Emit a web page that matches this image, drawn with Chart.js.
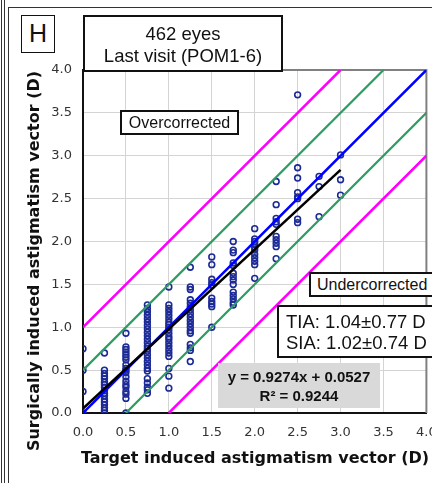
<!DOCTYPE html>
<html>
<head>
<meta charset="utf-8">
<script src="https://cdn.jsdelivr.net/npm/chart.js@4.4.1/dist/chart.umd.min.js"></script>
<style>
  html, body { margin: 0; padding: 0; background: #fff; overflow: hidden; }
  #wrap { position: relative; width: 432px; height: 483px; overflow: hidden; }
  #chart { position: absolute; left: 0; top: 0; }
  .frame { position: absolute; background: #333; }
  .box { position: absolute; box-sizing: border-box; border: 2px solid #111; background: #fff;
         font-family: "Liberation Sans", Arial, sans-serif; color: #111; text-align: center; }
  .axis-title { position: absolute; font-family: "DejaVu Sans", Verdana, sans-serif; font-weight: bold;
                font-size: 16px; color: #111; white-space: nowrap; }
</style>
</head>
<body>
<div id="wrap">
  <canvas id="chart" width="432" height="483"></canvas>

  <!-- panel frame lines -->
  <div class="frame" style="left:1px;top:0;width:1px;height:483px;"></div>
  <div class="frame" style="left:4px;top:0;width:1px;height:483px;"></div>
  <div class="frame" style="left:8px;top:7px;width:1px;height:476px;"></div>
  <div class="frame" style="left:8px;top:7px;width:424px;height:1px;"></div>

  <div class="box" style="left:21px;top:15px;width:34px;height:38px;border-width:1.5px;font-size:25px;line-height:35px;">H</div>
  <div class="box" style="left:83px;top:15px;width:200px;height:57px;font-size:18.5px;line-height:22px;padding-top:6px;">462 eyes<br>Last visit (POM1-6)</div>
  <div class="box" style="left:120px;top:110px;width:119px;height:25px;font-size:16px;line-height:21px;">Overcorrected</div>
  <div class="box" style="left:309px;top:272px;width:130px;height:25px;font-size:16px;line-height:21px;text-align:left;padding-left:6px;">Undercorrected</div>
  <div class="box" style="left:277px;top:305px;width:165px;height:53px;font-size:18.5px;line-height:21px;text-align:left;padding-left:7px;padding-top:4px;">TIA: 1.04±0.77 D<br>SIA: 1.02±0.74 D</div>
  <div class="box" style="left:218px;top:363px;width:162px;height:45px;border:none;background:#d9d9d9;font-weight:bold;font-size:15px;line-height:19px;padding-top:4px;">y = 0.9274x + 0.0527<br>R² = 0.9244</div>

  <div class="axis-title" style="left:255px;top:457px;transform:translate(-50%,-50%);">Target induced astigmatism vector (D)</div>
  <div class="axis-title" style="left:33px;top:261px;transform:translate(-50%,-50%) rotate(-90deg);">Surgically induced astigmatism vector (D)</div>
</div>

<script>
// axis ticks (diopters)
const axisTicks = [0, 0.5, 1.0, 1.5, 2.0, 2.5, 3.0, 3.5, 4.0];

// target induced astigmatism levels and the surgically induced values read at each
const tiaLevels = [0, 0.25, 0.5, 0.75, 1.0, 1.25, 1.5, 1.75, 2.0, 2.25, 2.5, 2.75, 3.0];
const sia000 = [0, 0.25, 0.5, 0.75];
const sia025 = [0, 0.03, 0.06, 0.1, 0.13, 0.16, 0.2, 0.23, 0.26, 0.3, 0.33, 0.36, 0.4, 0.43, 0.46, 0.5, 0.7];
const sia050 = [0, 0.17, 0.22, 0.25, 0.3, 0.33, 0.37, 0.42, 0.47, 0.5, 0.52, 0.56, 0.62, 0.65, 0.68, 0.71, 0.74, 0.77, 0.93];
const sia075 = [0.23, 0.27, 0.3, 0.35, 0.4, 0.49, 0.52, 0.56, 0.6, 0.64, 0.68, 0.72, 0.75, 0.78, 0.82, 0.86, 0.9, 0.94, 0.98, 1.02, 1.06, 1.1, 1.14, 1.18, 1.22, 1.26];
const sia100 = [0.29, 0.43, 0.52, 0.66, 0.7, 0.74, 0.78, 0.82, 0.86, 0.89, 0.93, 0.97, 1.0, 1.03, 1.06, 1.1, 1.14, 1.18, 1.22, 1.26, 1.47];
const sia125 = [0.6, 0.73, 0.76, 0.8, 0.93, 0.96, 1.0, 1.04, 1.08, 1.12, 1.16, 1.2, 1.24, 1.28, 1.32, 1.44, 1.47, 1.7];
const sia150 = [1.0, 1.24, 1.27, 1.3, 1.34, 1.49, 1.52, 1.56, 1.73, 1.82];
const sia175 = [1.26, 1.29, 1.33, 1.37, 1.41, 1.5, 1.55, 1.59, 1.63, 1.72, 1.75, 1.87, 1.9, 2.0];
const sia200 = [1.57, 1.73, 1.77, 1.81, 1.85, 1.9, 1.93, 1.97, 2.0, 2.03, 2.15];
const sia225 = [1.8, 1.94, 1.98, 2.02, 2.06, 2.2, 2.23, 2.27, 2.43, 2.7];
const sia250 = [2.22, 2.26, 2.5, 2.52, 2.57, 2.74, 2.86, 3.71];
const sia275 = [2.29, 2.64, 2.76];
const sia300 = [2.54, 2.72, 3.01];
const siaColumns = [sia000, sia025, sia050, sia075, sia100, sia125, sia150, sia175, sia200, sia225, sia250, sia275, sia300];

// reference lines SIA = TIA + offset
const offsetsGreen = [-0.5, 0.5];
const offsetsMagenta = [-1, 1];

// linear fit
const fitSlope = 0.9274;
const fitIntercept = 0.0527;
const fitRange = [0, 3.0];

const AXIS_MAX = 4;

function diagonal(offset) {
    const x0 = Math.max(0, -offset);
    const x1 = Math.min(AXIS_MAX, AXIS_MAX - offset);
    return [{ x: x0, y: x0 + offset }, { x: x1, y: x1 + offset }];
}

const scatterPoints = [];
tiaLevels.forEach((tia, i) => {
    siaColumns[i].forEach(sia => scatterPoints.push({ x: tia, y: sia }));
});

const lineStyle = (color, width) => ({
    type: 'line', borderColor: color, borderWidth: width, pointRadius: 0,
    fill: false, tension: 0, showLine: true
});

const datasets = [
    Object.assign(lineStyle('#000000', 2.5), {
        label: 'fit',
        data: fitRange.map(x => ({ x: x, y: fitSlope * x + fitIntercept }))
    }),
    Object.assign(lineStyle('#0000ff', 2.5), { label: 'y=x', data: diagonal(0) }),
    ...offsetsGreen.map(o => Object.assign(lineStyle('#2e9b62', 2.2), { label: 'g' + o, data: diagonal(o) })),
    ...offsetsMagenta.map(o => Object.assign(lineStyle('#ff00ff', 2.5), { label: 'm' + o, data: diagonal(o) })),
    {
        type: 'scatter', label: 'eyes', data: scatterPoints,
        pointStyle: 'circle', pointRadius: 2.9, pointBorderWidth: 1.6,
        pointBorderColor: '#1c2a96', pointBackgroundColor: 'rgba(255,255,255,0)'
    }
];

// grey frame on top/right of the plot
const plotFrame = {
    id: 'plotFrame',
    beforeDatasetsDraw(chart) {
        const a = chart.chartArea, ctx = chart.ctx;
        ctx.save();
        ctx.strokeStyle = '#808080';
        ctx.lineWidth = 2;
        ctx.beginPath();
        ctx.moveTo(a.left, a.top);
        ctx.lineTo(a.right, a.top);
        ctx.lineTo(a.right, a.bottom);
        ctx.stroke();
        ctx.restore();
    }
};

const tickFont = { family: '"DejaVu Sans", Verdana, sans-serif', size: 13 };

new Chart(document.getElementById('chart'), {
    type: 'scatter',
    data: { datasets: datasets },
    options: {
        responsive: false,
        animation: false,
        devicePixelRatio: 1,
        layout: { padding: { top: 70, right: 5, left: 0, bottom: 0 } },
        plugins: { legend: { display: false }, tooltip: { enabled: false } },
        scales: {
            x: {
                type: 'linear', min: 0, max: AXIS_MAX,
                afterBuildTicks: s => { s.ticks = axisTicks.map(v => ({ value: v })); },
                afterFit: s => { s.height = 70; s.paddingLeft = 0; s.paddingRight = 0; },
                grid: { color: '#d4d4d4', lineWidth: 1, drawTicks: false },
                border: { color: '#111', width: 2 },
                ticks: { color: '#333', font: tickFont, padding: 12, maxRotation: 0,
                         callback: v => v.toFixed(1) }
            },
            y: {
                type: 'linear', min: 0, max: AXIS_MAX,
                afterBuildTicks: s => { s.ticks = axisTicks.map(v => ({ value: v })); },
                afterFit: s => { s.width = 83; s.paddingTop = 0; s.paddingBottom = 0; },
                grid: { color: '#d4d4d4', lineWidth: 1, drawTicks: false },
                border: { color: '#111', width: 2 },
                ticks: { color: '#333', font: tickFont, padding: 11,
                         callback: v => v.toFixed(1) }
            }
        }
    },
    plugins: [plotFrame]
});
</script>
</body>
</html>
